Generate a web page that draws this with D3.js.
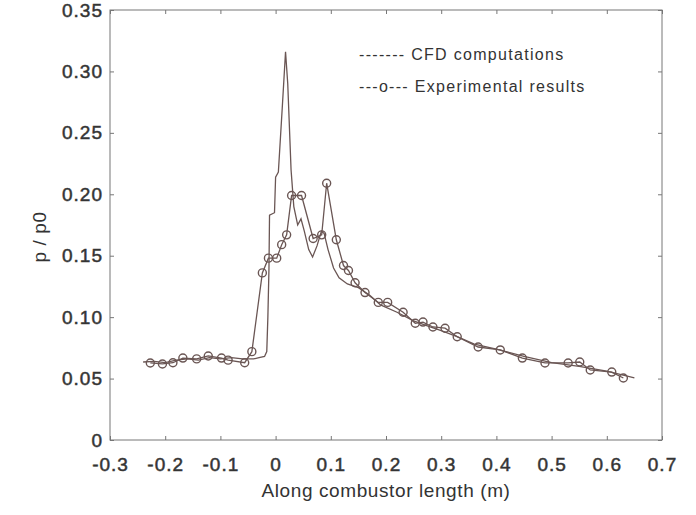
<!DOCTYPE html>
<head>
  <meta charset="utf-8">
  <script src="https://d3js.org/d3.v7.min.js"></script>
  <style>
    body { margin:0; background:#fff; }
    text { font-family: "Liberation Sans", Arial, sans-serif; fill:#333; }
  </style>
</head>
<body>
  <div class="body"></div>
  <script>
    // values
    const cfdX = [-0.24,-0.22,-0.2,-0.18,-0.16,-0.14,-0.12,-0.1,-0.08,-0.06,-0.04,-0.03,-0.02,-0.016,-0.014,-0.012,-0.011,-0.002,0.0,0.005,0.012,0.018,0.022,0.028,0.033,0.04,0.046,0.052,0.06,0.067,0.075,0.083,0.088,0.095,0.105,0.115,0.13,0.15,0.17,0.19,0.22,0.25,0.28,0.3,0.33,0.36,0.4,0.45,0.5,0.55,0.6,0.65];
    const cfdY = [0.0635,0.064,0.063,0.065,0.066,0.065,0.067,0.066,0.067,0.066,0.066,0.067,0.068,0.072,0.10,0.14,0.183,0.185,0.214,0.218,0.27,0.316,0.29,0.22,0.19,0.175,0.18,0.17,0.155,0.149,0.158,0.17,0.168,0.155,0.14,0.132,0.127,0.124,0.118,0.11,0.104,0.097,0.092,0.089,0.084,0.078,0.074,0.068,0.063,0.060,0.056,0.0505];

    const expX = [-0.227,-0.205,-0.186,-0.168,-0.143,-0.122,-0.098,-0.086,-0.056,-0.043,-0.024,-0.013,0.002,0.011,0.02,0.029,0.047,0.068,0.0835,0.0925,0.11,0.123,0.132,0.144,0.162,0.186,0.203,0.231,0.253,0.267,0.285,0.307,0.329,0.367,0.407,0.447,0.488,0.53,0.551,0.57,0.609,0.63];
    const expY = [0.0627,0.0619,0.0629,0.0667,0.066,0.0684,0.0667,0.065,0.0629,0.0719,0.136,0.148,0.148,0.159,0.167,0.199,0.199,0.164,0.167,0.209,0.163,0.142,0.138,0.128,0.12,0.112,0.112,0.104,0.095,0.096,0.092,0.091,0.084,0.0757,0.0733,0.0667,0.0627,0.0627,0.0635,0.057,0.0553,0.0505];

    const xTicks = [-0.3,-0.2,-0.1,0,0.1,0.2,0.3,0.4,0.5,0.6,0.7];
    const yTicks = [0,0.05,0.1,0.15,0.2,0.25,0.3,0.35];
    const legendLabels = ["------- CFD computations", "---o--- Experimental results"];
    const xTitle = "Along combustor length (m)";
    const yTitle = "p / p0";

    const margin = {top: 10, right: 34, bottom: 75, left: 110},
      width = 696 - margin.left - margin.right,
      height = 515 - margin.top - margin.bottom;

    const lineCol = "#6a5654";
    const textCol = "#3a3a3a";

    const svg = d3.select(".body").append("svg")
      .attr("width", 696)
      .attr("height", 515)
      .append("g")
      .attr("transform", "translate(" + margin.left + "," + margin.top + ")");

    const x = d3.scaleLinear().domain([-0.3, 0.7]).range([0, width]);
    const y = d3.scaleLinear().domain([0, 0.35]).range([height, 0]);

    // plain hyphen minus like the scan, bare "0" at the origin
    const fmtX = d => d === 0 ? "0" : d.toFixed(1);
    const fmtY = d => d === 0 ? "0" : d.toFixed(2);

    function styleAxis(g) {
      g.select(".domain").remove();
      g.selectAll(".tick line").attr("stroke", "#777");
      g.selectAll(".tick text")
        .attr("font-size", 19)
        .attr("letter-spacing", 1)
        .attr("fill", textCol)
        .attr("stroke", textCol)
        .attr("stroke-width", 0.5);
    }

    svg.append("g")
      .attr("transform", "translate(0," + height + ")")
      .call(d3.axisBottom(x).tickValues(xTicks).tickFormat(fmtX).tickSizeInner(-4).tickSizeOuter(0).tickPadding(18))
      .call(styleAxis);

    svg.append("g")
      .call(d3.axisTop(x).tickValues(xTicks).tickFormat("").tickSizeInner(-4).tickSizeOuter(0))
      .call(styleAxis);

    svg.append("g")
      .call(d3.axisLeft(y).tickValues(yTicks).tickFormat(fmtY).tickSizeInner(-4).tickSizeOuter(0).tickPadding(7))
      .call(styleAxis);

    svg.append("g")
      .attr("transform", "translate(" + width + ",0)")
      .call(d3.axisRight(y).tickValues(yTicks).tickFormat("").tickSizeInner(-4).tickSizeOuter(0))
      .call(styleAxis);

    svg.append("rect")
      .attr("width", width)
      .attr("height", height)
      .attr("fill", "none")
      .attr("stroke", "#777")
      .attr("stroke-width", 1);

    const cfd = cfdX.map((d, i) => ({x: d, y: cfdY[i]}));
    const exp = expX.map((d, i) => ({x: d, y: expY[i]}));

    const line = d3.line().x(d => x(d.x)).y(d => y(d.y));

    svg.append("path")
      .datum(cfd)
      .attr("d", line)
      .attr("fill", "none")
      .attr("stroke", lineCol)
      .attr("stroke-width", 1.3);

    svg.append("path")
      .datum(exp)
      .attr("d", line)
      .attr("fill", "none")
      .attr("stroke", lineCol)
      .attr("stroke-width", 1.3);

    svg.selectAll(".pt")
      .data(exp)
      .enter()
      .append("circle")
      .attr("class", "pt")
      .attr("cx", d => x(d.x))
      .attr("cy", d => y(d.y))
      .attr("r", 4)
      .attr("fill", "none")
      .attr("stroke", lineCol)
      .attr("stroke-width", 1.4);

    // legend, plain text as in the scan
    svg.selectAll(".leg")
      .data(legendLabels)
      .enter()
      .append("text")
      .attr("class", "leg")
      .attr("x", 249)
      .attr("y", (d, i) => 50 + i * 32)
      .attr("font-size", 16)
      .attr("letter-spacing", 1.3)
      .attr("fill", textCol)
      .text(d => d);

    svg.append("text")
      .attr("x", width / 2)
      .attr("y", height + 57)
      .attr("text-anchor", "middle")
      .attr("font-size", 19)
      .attr("letter-spacing", 0.6)
      .attr("fill", textCol)
      .text(xTitle);

    svg.append("text")
      .attr("transform", "translate(-64," + (height / 2 + 12) + ") rotate(-90)")
      .attr("text-anchor", "middle")
      .attr("font-size", 19)
      .attr("letter-spacing", 0.6)
      .attr("fill", textCol)
      .text(yTitle);
  </script>
</body>
